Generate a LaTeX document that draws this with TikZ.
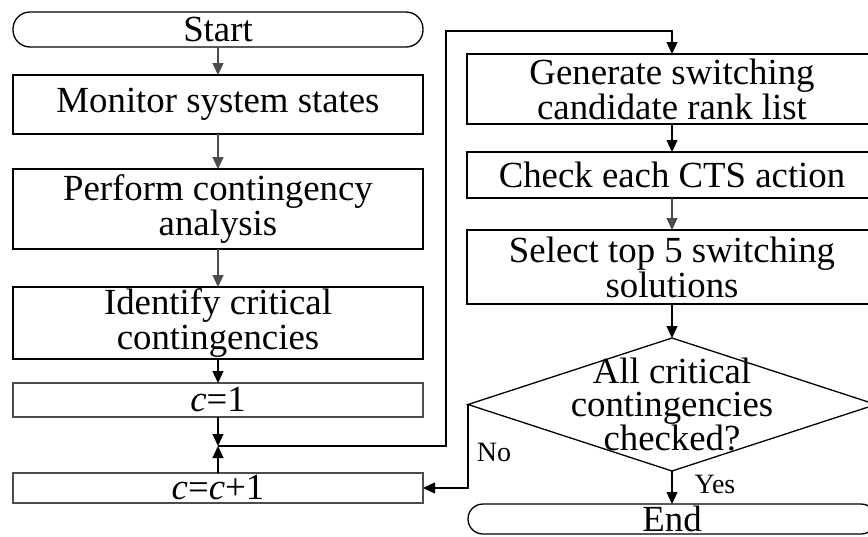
\documentclass[tikz,border=0pt]{standalone}
\usepackage{fontspec}
\setmainfont{Liberation Serif}
\usetikzlibrary{shapes.geometric,arrows.meta}
\begin{document}
\begin{tikzpicture}[x=1pt,y=-1pt,
  every node/.style={inner sep=0pt,outer sep=0pt},
  txt/.style={font=\fontsize{36.8}{35}\selectfont,align=center},
  procbox/.style={draw,line width=1.3pt,txt,minimum width=410pt},
  lightbox/.style={procbox,draw=black!70},
  termbox/.style={draw,line width=1.3pt,txt,minimum width=410pt,rounded corners=#1},
  decbox/.style={draw,line width=1.3pt,diamond,minimum width=408pt,minimum height=133pt},
  flow/.style={line width=1.3pt,-{Triangle[length=12pt,width=11pt]}},
  grayflow/.style={flow,draw=black!70},
  small/.style={font=\fontsize{28}{28}\selectfont}]
\clip (0,0) rectangle (868,536);
% left column
\node[termbox=17pt,minimum height=35pt] (start) at (218,29.5) {Start};
\node[procbox,minimum height=59pt] (mon) at (218,104.5) {Monitor system states};
\node[procbox,minimum height=80pt] (perf) at (218,209) {Perform contingency\\analysis};
\node[procbox,minimum height=72pt] (ident) at (218,323) {Identify critical\\contingencies};
\node[lightbox,minimum height=34pt] (c1) at (218,400) {\textit{c}=1};
\coordinate (junc) at (218,446);
\node[lightbox,minimum height=30pt] (inc) at (218,488) {\textit{c}=\textit{c}+1};
% right column
\node[procbox,minimum height=70pt] (gen) at (672,89) {Generate switching\\candidate rank list};
\node[procbox,minimum height=46pt] (chk) at (672,175) {Check each CTS action};
\node[procbox,minimum height=74pt] (sel) at (672,267) {Select top 5 switching\\solutions};
\node[decbox] (dec) at (672,404.5) {};
\node[txt,font=\fontsize{36.8}{33.5}\selectfont] (dectxt) at (672,404) {All critical\\contingencies\\checked?};
\node[termbox=15pt,minimum height=30pt,minimum width=408pt] (end) at (672,519) {End};
\coordinate (bus) at (446,31);
% connectors
\draw[grayflow] (start) -- (mon);
\draw[grayflow] (mon) -- (perf);
\draw[grayflow] (perf) -- (ident);
\draw[flow] (ident) -- (c1);
\draw[flow] (c1) -- (junc);
\draw[flow] (inc) -- (junc);
\draw[flow] (junc) -- (junc -| bus) -- (bus) -- (bus -| gen.north) -- (gen.north);
\draw[flow] (gen) -- (chk);
\draw[grayflow] (chk) -- (sel);
\draw[flow] (sel) -- (dec.north);
\draw[flow] (dec.south) -- (end);
\draw[flow] (dec.west) |- (inc.east);
\node[small] (nolbl) at (494,452) {No};
\node[small] (yeslbl) at (715,484) {Yes};
\end{tikzpicture}
\end{document}
